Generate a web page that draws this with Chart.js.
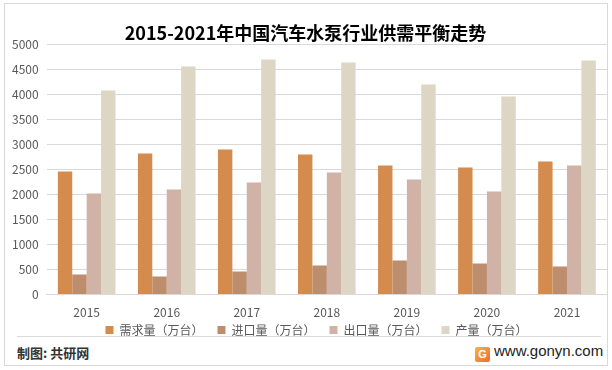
<!DOCTYPE html>
<html>
<head>
<meta charset="utf-8">
<script src="https://cdn.jsdelivr.net/npm/chart.js@4.4.1/dist/chart.umd.min.js"></script>
<style>
  body { margin: 0; background: #fff; }
  #wrap { position: relative; width: 612px; height: 370px; overflow: hidden; font-family: 'Noto Sans CJK SC', sans-serif; }
  #box { position: absolute; left: 4px; top: 3px; width: 602px; height: 361px; border: 1px solid #d9d9d9; }
  #chartBox { position: absolute; left: 0; top: 0; width: 612px; height: 359px; }
  #sep { position: absolute; left: 17px; top: 336px; width: 584px; height: 1px; background: #d9d9d9; }
  #src { position: absolute; left: 17px; top: 343px; font-size: 13px; font-weight: bold; color: #333; }
  #site { position: absolute; left: 475px; top: 342px; font-size: 15px; color: #222; font-family: 'Liberation Sans', sans-serif; }
  #logo { display: inline-block; width: 15px; height: 15px; border-radius: 2px; background: linear-gradient(135deg, #f7b34a, #ef6a2e); color: #fff; font-size: 11px; font-weight: bold; text-align: center; line-height: 15px; margin-right: 4px; vertical-align: -2px; }
</style>
</head>
<body>
<div id="wrap">
  <div id="box"></div>
  <div id="sep"></div>
  <div id="src">制图: 共研网</div>
  <div id="site"><span id="logo">G</span>www.gonyn.com</div>
  <div id="chartBox"><canvas id="grafico"></canvas></div>
</div>
<script>
// dados
const anos = ['2015', '2016', '2017', '2018', '2019', '2020', '2021'];
const demanda = [2460, 2820, 2900, 2800, 2580, 2540, 2660];
const importacao = [400, 360, 460, 580, 680, 620, 560];
const exportacao = [2020, 2100, 2240, 2440, 2300, 2060, 2580];
const producao = [4080, 4560, 4700, 4640, 4200, 3960, 4680];

const fonteCJK = "'Noto Sans CJK SC', sans-serif";

// puxa a legenda um pouco pra cima e pra direita
const ajusteLegenda = {
    id: 'ajusteLegenda',
    afterLayout(chart) {
        const lg = chart.legend;
        lg.top -= 13;
        lg.bottom -= 13;
        lg.left += 11;
        lg.right += 11;
    }
};

const ctx = document.getElementById('grafico');
new Chart(ctx, {
    type: 'bar',
    data: {
        labels: anos,
        datasets: [
            { label: '需求量（万台）', data: demanda, backgroundColor: '#D38B4E' },
            { label: '进口量（万台）', data: importacao, backgroundColor: '#BC8E6D' },
            { label: '出口量（万台）', data: exportacao, backgroundColor: '#D1B2A7' },
            { label: '产量（万台）', data: producao, backgroundColor: '#DED6C4' }
        ]
    },
    options: {
        responsive: true,
        maintainAspectRatio: false,
        animation: false,
        datasets: {
            bar: { categoryPercentage: 0.72, barPercentage: 1.0 }
        },
        layout: { padding: { left: 4, right: 5, top: 0, bottom: 0 } },
        scales: {
            x: {
                grid: { display: false },
                border: { color: '#d9d9d9' },
                ticks: { color: '#595959', font: { size: 12, family: fonteCJK }, padding: 3 }
            },
            y: {
                min: 0,
                max: 5000,
                ticks: {
                    stepSize: 500,
                    color: '#595959',
                    font: { size: 12, family: fonteCJK },
                    padding: 8,
                    callback: (v) => String(v)
                },
                grid: { color: '#d9d9d9', drawTicks: false },
                border: { display: false }
            }
        },
        plugins: {
            title: {
                display: true,
                text: '2015-2021年中国汽车水泵行业供需平衡走势',
                color: '#000',
                font: { size: 18, weight: 'bold', family: fonteCJK },
                padding: { top: 22, bottom: 1 }
            },
            legend: {
                position: 'bottom',
                labels: {
                    boxWidth: 8,
                    boxHeight: 8,
                    color: '#595959',
                    font: { size: 12, family: fonteCJK },
                    padding: 14
                }
            },
            tooltip: { enabled: false }
        }
    },
    plugins: [ajusteLegenda]
});
</script>
</body>
</html>
